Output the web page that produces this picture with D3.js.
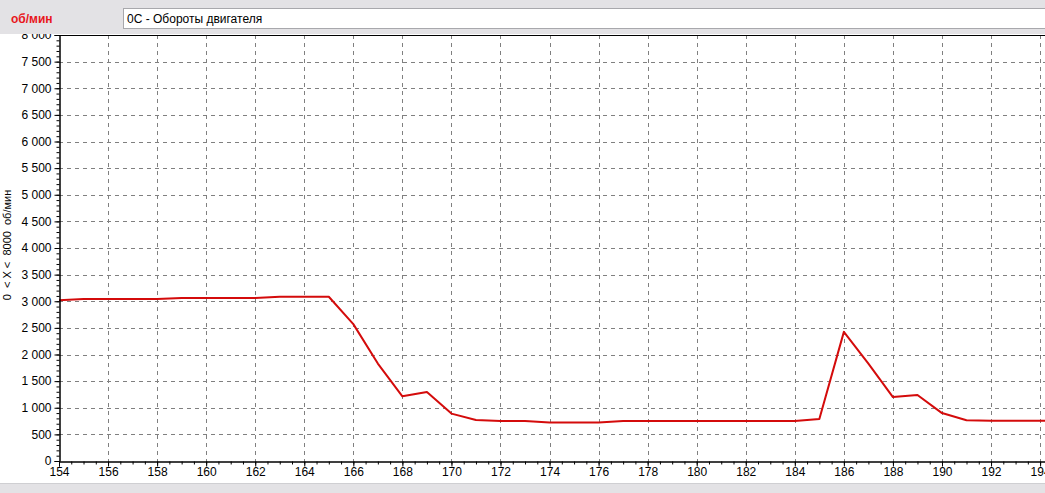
<!DOCTYPE html>
<html><head><meta charset="utf-8">
<script src="https://cdn.jsdelivr.net/npm/d3@7"></script>
<style>
html,body{margin:0;padding:0;background:#fff;}
svg{display:block;}
text{font-family:"Liberation Sans","DejaVu Sans",sans-serif;}
</style></head>
<body><svg id="c" width="1045" height="493"></svg>
<script>
const xValues = [154,155,156,157,158,159,160,161,162,163,164,165,166,167,168,169,170,171,172,173,174,175,176,177,178,179,180,181,182,183,184,185,186,187,188,189,190,191,192,193,194,194.2];
const rpmValues = [3020,3040,3040,3040,3040,3060,3060,3060,3060,3085,3085,3085,2570,1830,1215,1295,890,770,750,750,725,725,725,750,750,750,750,750,750,750,750,790,2425,1830,1200,1240,900,765,755,755,755,755];
const xTicks = d3.range(154,195,2);
const yTicks = d3.range(0,8001,500);
const unitLabel = "об/мин";
const channelTitle = "0C - Обороты двигателя";
const yAxisTitle = "0  < X <  8000  об/мин";

const svg = d3.select("#c");
const W=1045,H=493;
const m={left:59,right:0,top:35,bottom:32};
const x = d3.scaleLinear().domain([154,194.2]).range([m.left, W]);
const y = d3.scaleLinear().domain([0,8000]).range([H-m.bottom, m.top]);
const fmt = v => d3.format(",")(v).replace(/,/g," ");

// grid
const g = svg.append("g");
g.selectAll(".vg").data(xTicks.filter(d=>d>154)).join("line")
 .attr("x1",d=>Math.round(x(d))+0.5).attr("x2",d=>Math.round(x(d))+0.5)
 .attr("y1",m.top).attr("y2",H-m.bottom)
 .attr("stroke","#808080").attr("stroke-dasharray","4,4");
g.selectAll(".hg").data(yTicks.filter(d=>d>0&&d<8000)).join("line")
 .attr("y1",d=>Math.round(y(d))+0.5).attr("y2",d=>Math.round(y(d))+0.5)
 .attr("x1",m.left).attr("x2",W)
 .attr("stroke","#808080").attr("stroke-dasharray","4,4");

// line
svg.append("path").datum(xValues.map((d,i)=>[d,rpmValues[i]]))
 .attr("fill","none").attr("stroke","#d40b0b").attr("stroke-width",2)
 .attr("stroke-linejoin","round")
 .attr("d",d3.line().x(d=>x(d[0])).y(d=>y(d[1])));

// y axis minor ticks
const yAx = svg.append("g").attr("transform",`translate(${m.left+0.5},0)`);
yAx.call(d3.axisLeft(y).tickValues(d3.range(0,8001,100)).tickSize(3).tickFormat(""));
yAx.append("g").call(d3.axisLeft(y).tickValues(yTicks).tickSize(5).tickFormat(fmt));
yAx.selectAll("path.domain").attr("stroke","#000");
yAx.selectAll("text").attr("font-size","12px").attr("fill","#000").attr("x",-8);
yAx.selectAll("line").attr("stroke","#000");

// x axis
const xAx = svg.append("g").attr("transform",`translate(0,${H-m.bottom+0.5})`);
xAx.call(d3.axisBottom(x).tickValues(d3.range(154,194.3,0.5)).tickSize(3).tickFormat(""));
xAx.append("g").call(d3.axisBottom(x).tickValues(xTicks).tickSize(5).tickFormat(d3.format("d")));
xAx.selectAll("path.domain").attr("stroke","#000");
xAx.selectAll("line").attr("stroke","#000");
xAx.selectAll("text").attr("font-size","12px").attr("fill","#000").attr("y",6);

// top border of plot
svg.append("line").attr("x1",m.left).attr("x2",W).attr("y1",m.top+0.5).attr("y2",m.top+0.5).attr("stroke","#000");

// header band
svg.append("rect").attr("x",0).attr("y",0).attr("width",W).attr("height",34).attr("fill","#e3e2e5");
svg.append("rect").attr("x",123.5).attr("y",8.5).attr("width",W).attr("height",20).attr("fill","#fff").attr("stroke","#a8a8ac");
svg.append("text").attr("x",11).attr("y",23).attr("fill","#e8161c").attr("font-weight","bold").attr("font-size","12px").text(unitLabel);
svg.append("text").attr("x",127).attr("y",23).attr("fill","#000").attr("font-size","12px").text(channelTitle);

// bottom band
svg.append("rect").attr("x",0).attr("y",484).attr("width",W).attr("height",9).attr("fill","#e3e2e5");
svg.append("line").attr("x1",0).attr("x2",W).attr("y1",483.5).attr("y2",483.5).attr("stroke","#cfcfd2");

// y title
svg.append("text").attr("transform","translate(11,245) rotate(-90)").attr("text-anchor","middle")
 .attr("font-size","11px").attr("fill","#000").attr("xml:space","preserve").style("white-space","pre").text(yAxisTitle);
</script></body></html>
